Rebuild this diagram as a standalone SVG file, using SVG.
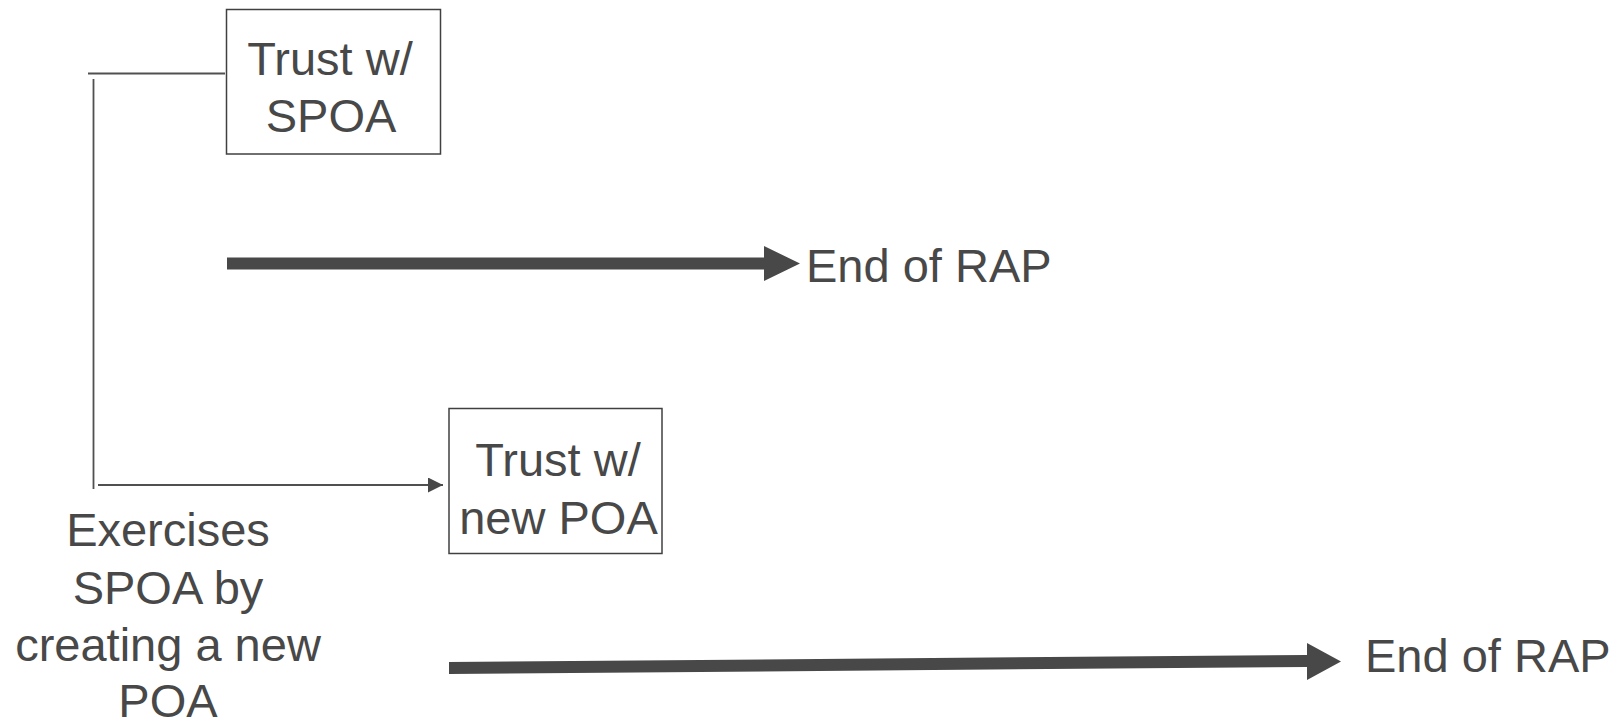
<svg xmlns="http://www.w3.org/2000/svg" width="1622" height="722" viewBox="0 0 1622 722">
<defs>
<style>
.t{font-family:"Liberation Sans",Arial,sans-serif;font-size:47px;fill:#484848;text-anchor:middle}
.tl{font-family:"Liberation Sans",Arial,sans-serif;font-size:47px;fill:#484848}
.box{fill:#fff;stroke:#404040;stroke-width:1.5}
.thin{stroke:#505050;stroke-width:1.8;fill:none}
.thick{fill:#484848;stroke:none}
</style>
<marker id="ah" viewBox="0 0 10 10" refX="10" refY="5" markerWidth="15" markerHeight="15" markerUnits="userSpaceOnUse" orient="auto">
<path d="M0,0 L10,5 L0,10 Z" fill="#484848"/>
</marker>
</defs>
<rect width="1622" height="722" fill="#fff"/>
<g id="connectors">
<line class="thin" x1="88" y1="73.5" x2="225" y2="73.5"/>
<line class="thin" x1="93.5" y1="79" x2="93.5" y2="489"/>
<line class="thin" x1="98" y1="485" x2="443" y2="485" marker-end="url(#ah)"/>
<polygon class="thick" points="227,257.5 764,257.5 764,246 800,263.5 764,281 764,269.5 227,269.5"/>
<polygon class="thick" points="449,662 1307,655 1307,643 1341,661.5 1307,680 1307,667 449,674"/>
</g>
<g id="node-trust-spoa">
<rect class="box" x="226.5" y="9.5" width="214" height="144.5"/>
<text class="t" x="330" y="75">Trust w/</text>
<text class="t" x="331" y="132">SPOA</text>
</g>
<g id="node-trust-new-poa">
<rect class="box" x="449" y="408.5" width="213" height="145"/>
<text class="t" x="558" y="476">Trust w/</text>
<text class="t" x="558.5" y="534">new POA</text>
</g>
<g id="node-exercises">
<text class="t" x="168" y="546">Exercises</text>
<text class="t" x="168" y="603.5">SPOA by</text>
<text class="t" x="168" y="661">creating a new</text>
<text class="t" x="168" y="717">POA</text>
</g>
<g id="node-end1">
<text class="tl" x="806" y="282">End of RAP</text>
</g>
<g id="node-end2">
<text class="tl" x="1365" y="672">End of RAP</text>
</g>
</svg>
